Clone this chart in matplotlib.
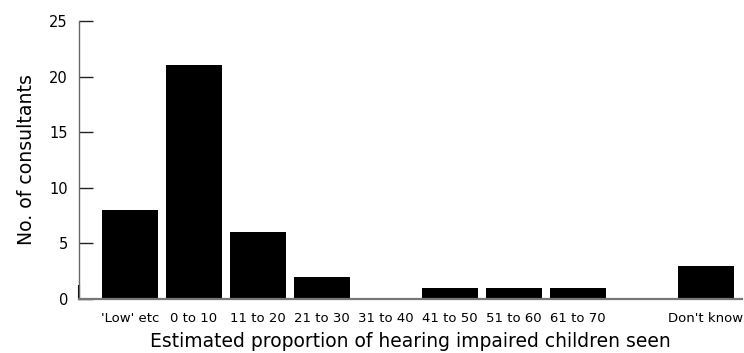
import matplotlib
matplotlib.use("Agg")
import matplotlib.pyplot as plt

categories = ["'Low' etc", "0 to 10", "11 to 20", "21 to 30", "31 to 40",
              "41 to 50", "51 to 60", "61 to 70", "", "Don't know"]
counts = [8, 21, 6, 2, 0, 1, 1, 1, 0, 3]
yticks = [0, 5, 10, 15, 20, 25]

plt.rcParams['font.family'] = ['DejaVu Sans']

fig = plt.figure(figsize=(7.44, 3.53), dpi=100)
ax = fig.add_axes([79/744, 54/353, 663/744, 278/353])

x = list(range(len(categories)))
ax.bar(x, counts, width=0.875, color='black', linewidth=0)

ax.set_xlim(-0.797, 9.563)
ax.set_ylim(0, 25)
ax.set_xticks(x)
ax.set_xticklabels(categories, fontsize=9.5)
ax.set_yticks(yticks)
ax.set_yticklabels([str(v) for v in yticks], fontsize=10.5)

ax.tick_params(axis='x', length=0, pad=9.5)
ax.tick_params(axis='y', direction='in', length=10, width=1, color='#222222', pad=8)

for s in ['top', 'right']:
    ax.spines[s].set_visible(False)
ax.spines['left'].set_color('#666666')
ax.spines['left'].set_linewidth(1)
ax.spines['bottom'].set_color('#777777')
ax.spines['bottom'].set_linewidth(1.6)
ax.axvline(ax.get_xlim()[0], ymin=0, ymax=0.045, color='black', lw=1.5, clip_on=False)

ax.set_xlabel('Estimated proportion of hearing impaired children seen', fontsize=13.5, labelpad=5)
ax.set_ylabel('No. of consultants', fontsize=13.6, labelpad=9.5)

fig.savefig('out.png', dpi=100)
